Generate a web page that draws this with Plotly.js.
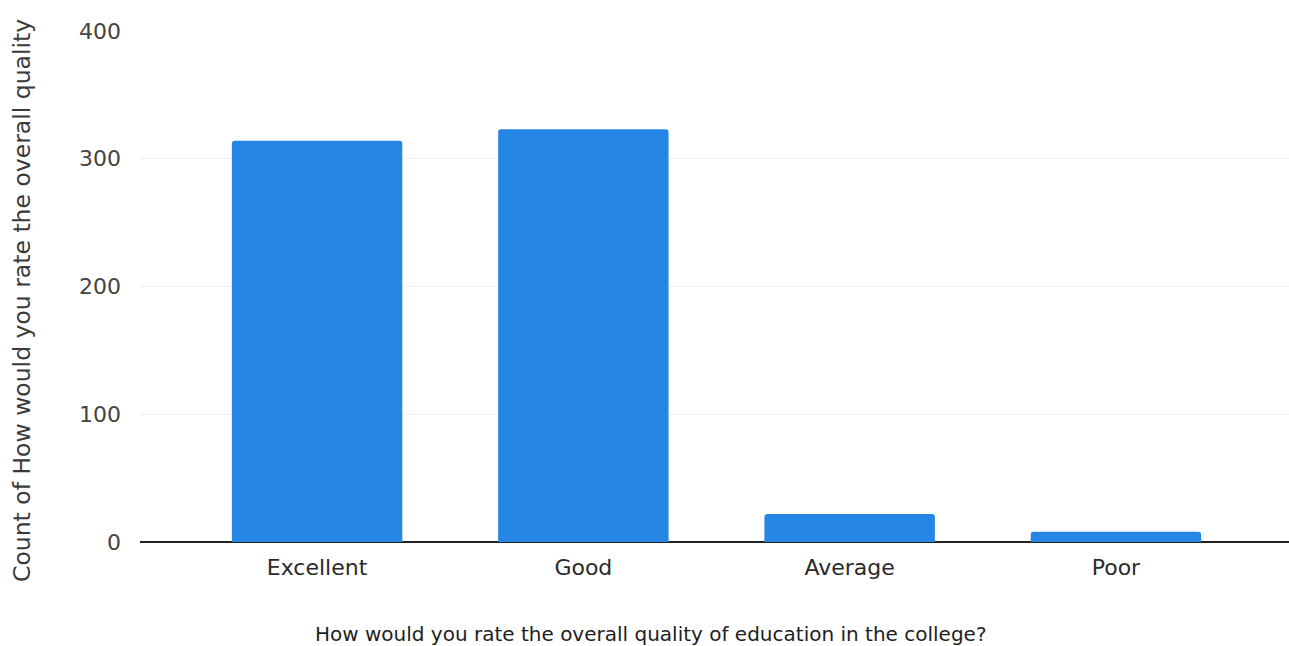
<!DOCTYPE html>
<html>
<head>
<meta charset="utf-8">
<script src="https://cdn.plot.ly/plotly-3.0.1.min.js"></script>
<style>html,body{margin:0;padding:0;background:#fff;}#chart{width:1289px;height:646px;}</style>
</head>
<body>
<div id="chart"></div>
<script>
const categories = ["Excellent", "Good", "Average", "Poor"];
const counts = [314, 323, 22, 8];
const yTicks = [0, 100, 200, 300, 400];
const xTitle = "How would you rate the overall quality of education in the college?";
const yTitle = "Count of How would you rate the overall quality";

const trace = {
  type: "bar",
  x: categories,
  y: counts,
  marker: {color: "#2586e6", cornerradius: 3},
  hoverinfo: "x+y"
};

const layout = {
  width: 1289, height: 646,
  margin: {l: 140, r: 0, t: 31, b: 104},
  paper_bgcolor: "#ffffff",
  plot_bgcolor: "#ffffff",
  bargap: 0.36,
  showlegend: false,
  font: {family: "DejaVu Sans, Liberation Sans, Arial, sans-serif", color: "#333333", size: 20},
  xaxis: {
    type: "category",
    range: [-0.665, 3.65],
    showgrid: false,
    zeroline: false,
    showline: false,
    ticks: "",
    ticklabelstandoff: 10,
    tickfont: {size: 22, color: "#2a2a2a"}
  },
  yaxis: {
    range: [0, 400],
    tickvals: yTicks,
    ticktext: yTicks.map(String),
    showgrid: true,
    gridcolor: "#efefef",
    gridwidth: 1,
    zeroline: true,
    zerolinecolor: "#222222",
    zerolinewidth: 2,
    showline: false,
    ticks: "",
    ticklabelstandoff: 18,
    tickfont: {size: 22, color: "#444444"}
  },
  annotations: [
    {text: xTitle, xref: "paper", yref: "paper", x: 0.4447, y: -0.18,
     xanchor: "center", yanchor: "middle", showarrow: false,
     font: {size: 20, color: "#1e1e1e"}},
    {text: yTitle, xref: "paper", yref: "paper", x: -0.1027, y: 0.4736,
     xanchor: "center", yanchor: "middle", showarrow: false, textangle: -90,
     font: {size: 23.5, color: "#3a3a3a"}}
  ]
};

Plotly.newPlot("chart", [trace], layout, {displayModeBar: false, staticPlot: true});
</script>
</body>
</html>
